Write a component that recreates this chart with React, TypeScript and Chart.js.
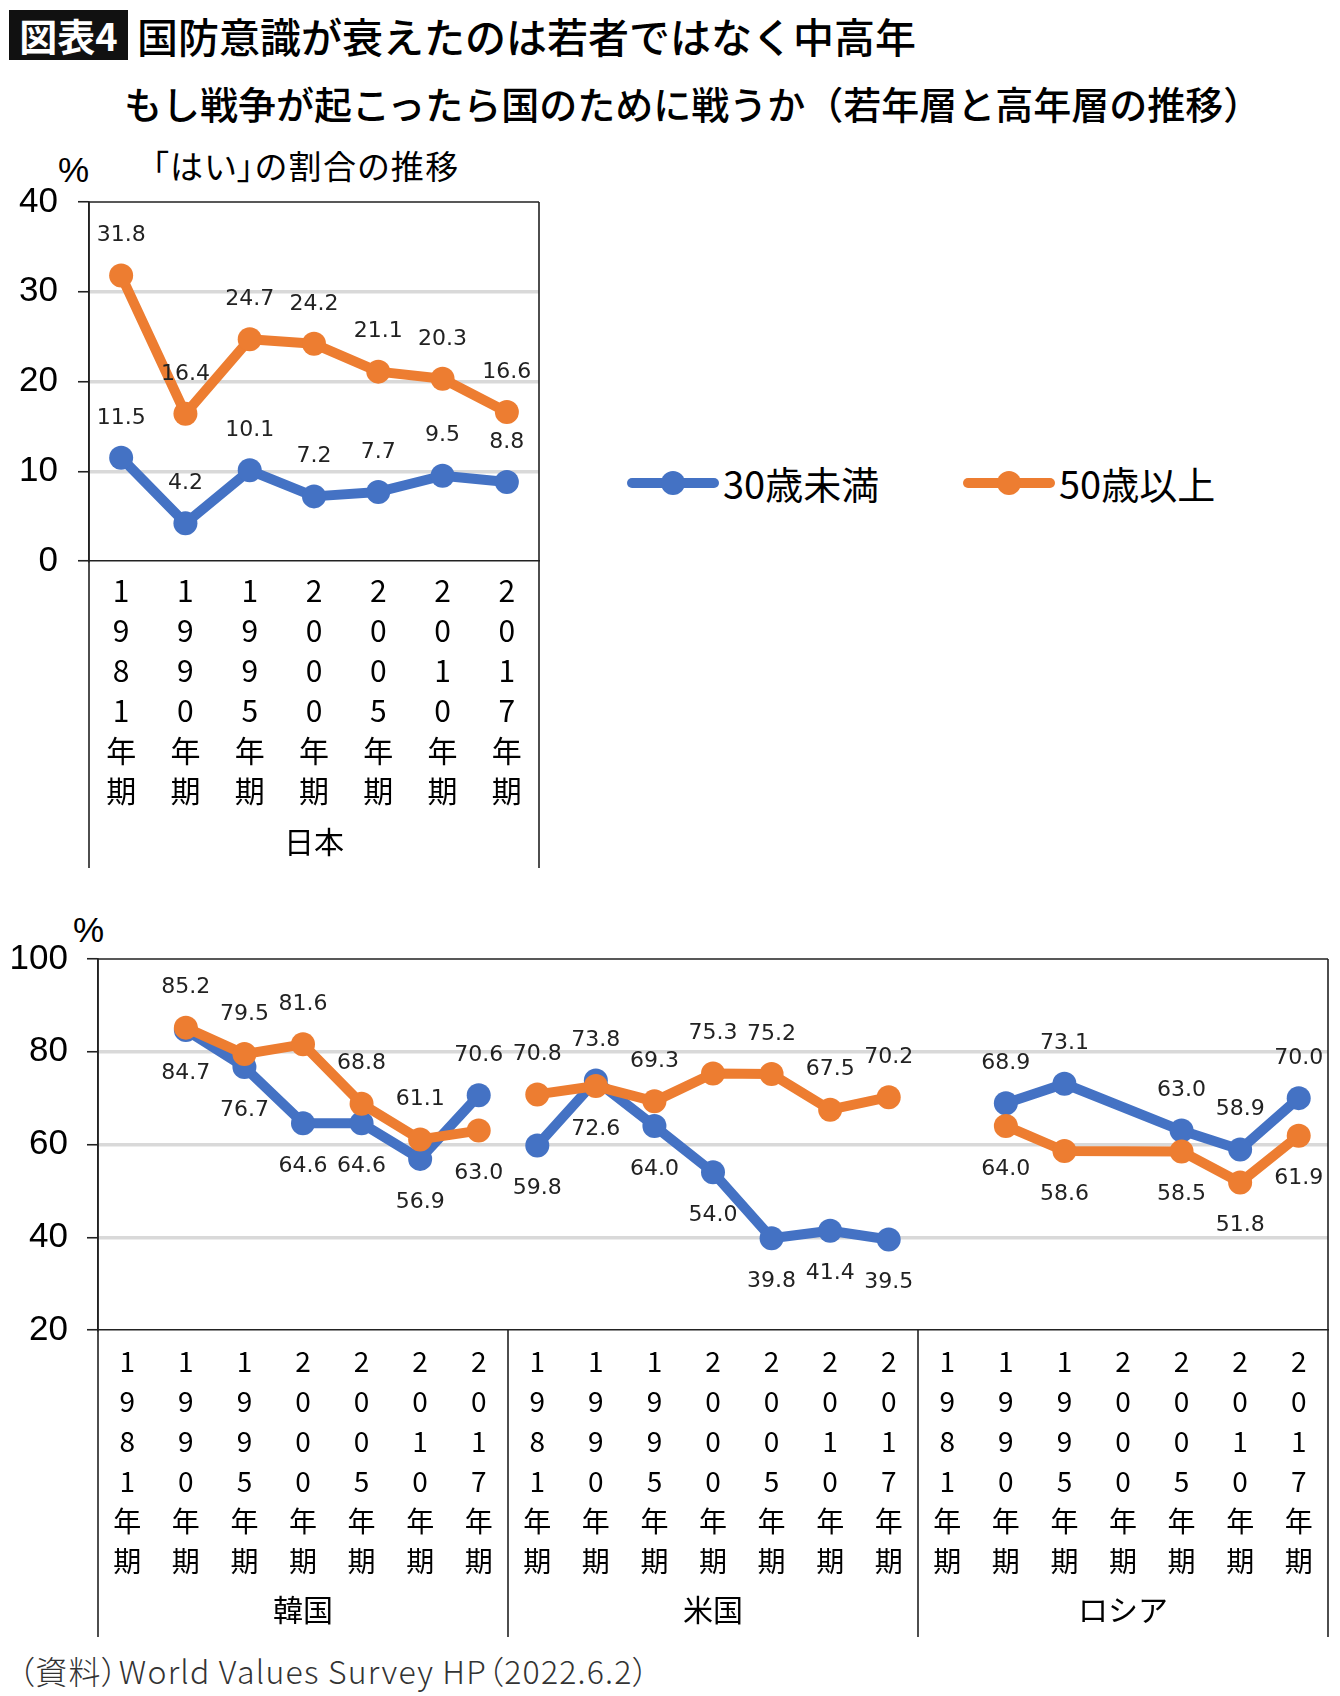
import React, { useEffect, useRef } from "react";
import { Chart, registerables } from "chart.js";

Chart.register(...registerables);

const BLUE = "#4472C4";
const ORANGE = "#ED7D31";
const JP_FONT = '"Noto Sans CJK JP", "Noto Sans", sans-serif';
const NUM_FONT = '"Liberation Sans", Arial, sans-serif';

// categories
const periods = ["1981", "1990", "1995", "2000", "2005", "2010", "2017"];
const countries = ["韓国", "米国", "ロシア"];
const seriesNames = ["30歳未満", "50歳以上"];

// Japan, % answering "yes"
const japanUnder30 = [11.5, 4.2, 10.1, 7.2, 7.7, 9.5, 8.8];
const japanOver50 = [31.8, 16.4, 24.7, 24.2, 21.1, 20.3, 16.6];

// Korea / US / Russia
const koreaUnder30 = [null, 84.7, 76.7, 64.6, 64.6, 56.9, 70.6];
const koreaOver50 = [null, 85.2, 79.5, 81.6, 68.8, 61.1, 63.0];
const usUnder30 = [59.8, 73.8, 64.0, 54.0, 39.8, 41.4, 39.5];
const usOver50 = [70.8, 72.6, 69.3, 75.3, 75.2, 67.5, 70.2];
const russiaUnder30 = [null, 68.9, 73.1, null, 63.0, 58.9, 70.0];
const russiaOver50 = [null, 64.0, 58.6, null, 58.5, 51.8, 61.9];

// which side of the point the value label sits on
const A = "above";
const B = "below";
const japanUnder30Side = [A, A, A, A, A, A, A];
const japanOver50Side = [A, A, A, A, A, A, A];
const koreaUnder30Side = [B, B, B, B, B, B, A];
const koreaOver50Side = [A, A, A, A, A, A, B];
const usUnder30Side = [B, A, B, B, B, B, B];
const usOver50Side = [A, B, A, A, A, A, A];
const russiaUnder30Side = [A, A, A, A, A, A, A];
const russiaOver50Side = [B, B, B, B, B, B, B];

const periodLabel = (p: string) => [...p.split(""), "年", "期"];

// put one country's 7 values into its slot of the 21-category axis
const spread = (vals: any[], g: number) =>
  Array.from({ length: 21 }, (_, i) => (Math.floor(i / 7) === g ? vals[i % 7] : null));

const valueLabels = {
  id: "valueLabels",
  afterDatasetsDraw(chart: any) {
    const ctx = chart.ctx;
    ctx.save();
    ctx.font = '22px "DejaVu Sans", sans-serif';
    ctx.fillStyle = "#222";
    ctx.textAlign = "center";
    ctx.textBaseline = "middle";
    chart.data.datasets.forEach((ds: any, i: number) => {
      const meta = chart.getDatasetMeta(i);
      meta.data.forEach((pt: any, j: number) => {
        const v = ds.data[j];
        if (v == null) return;
        const dy = ds.labelSide[j] === B ? 43 : -40;
        ctx.fillText(v.toFixed(1), pt.x, pt.y + dy);
      });
    });
    ctx.restore();
  },
};

// plot frame + the long category dividers under the axis
const framePlugin = {
  id: "frame",
  afterDraw(chart: any) {
    const { ctx, chartArea: a } = chart;
    const g = chart.scales.x2;
    const n = g.getLabels().length;
    const step = (a.right - a.left) / n;
    ctx.save();
    ctx.strokeStyle = "#222";
    ctx.lineWidth = 1.6;
    ctx.beginPath();
    ctx.moveTo(a.left, a.top);
    ctx.lineTo(a.right, a.top);
    for (let k = 0; k <= n; k++) {
      const x = a.left + k * step;
      ctx.moveTo(x, k === 0 || k === n ? a.top : a.bottom);
      ctx.lineTo(x, g.bottom);
    }
    ctx.stroke();
    ctx.restore();
  },
};

function lineSet(label: string, values: any[], color: string, order: number, sides: string[]) {
  return {
    label,
    data: values,
    labelSide: sides,
    borderColor: color,
    backgroundColor: color,
    borderWidth: 10,
    borderJoinStyle: "round",
    pointRadius: 12,
    pointHoverRadius: 12,
    pointBorderWidth: 0,
    tension: 0,
    spanGaps: true,
    order,
    xAxisID: "x",
    yAxisID: "y",
  };
}

function chartOptions(o: any) {
  return {
    animation: false,
    responsive: false,
    maintainAspectRatio: false,
    layout: { padding: o.padding },
    plugins: { legend: { display: false }, tooltip: { enabled: false } },
    scales: {
      x: {
        type: "category",
        offset: true,
        weight: 0,
        grid: { display: false },
        border: { display: true, color: "#222", width: 1.6 },
        ticks: {
          autoSkip: false,
          maxRotation: 0,
          minRotation: 0,
          padding: o.xPad,
          color: "#000",
          font: { family: JP_FONT, size: o.xFont, lineHeight: "40px" },
        },
        afterFit: (s: any) => {
          s.height = o.xHeight;
        },
      },
      x2: {
        type: "category",
        labels: o.groups,
        offset: true,
        position: "bottom",
        weight: 1,
        grid: { display: false },
        border: { display: false },
        ticks: { padding: o.x2Pad, color: "#000", font: { family: JP_FONT, size: 30 } },
        afterFit: (s: any) => {
          s.height = o.x2Height;
        },
      },
      y: {
        min: o.yMin,
        max: o.yMax,
        ticks: {
          stepSize: o.step,
          padding: o.yPad,
          color: "#000",
          font: { family: NUM_FONT, size: 35 },
        },
        grid: {
          color: (c: any) =>
            c.tick && (c.tick.value === o.yMin || c.tick.value === o.yMax) ? "rgba(0,0,0,0)" : "#d9d9d9",
          lineWidth: 3.5,
          tickLength: 11,
          tickColor: "#222",
          tickWidth: 1.6,
        },
        border: { color: "#222", width: 1.6 },
        afterFit: (s: any) => {
          s.width = o.yWidth;
        },
      },
    },
  };
}

function JapanChart() {
  const ref = useRef<HTMLCanvasElement>(null);
  useEffect(() => {
    const chart = new Chart(ref.current as any, {
      type: "line",
      data: {
        labels: periods.map(periodLabel),
        datasets: [
          lineSet(seriesNames[1], japanOver50, ORANGE, 0, japanOver50Side),
          lineSet(seriesNames[0], japanUnder30, BLUE, 1, japanUnder30Side),
        ],
      },
      options: chartOptions({
        padding: { top: 44, right: 21, bottom: 4, left: 0 },
        groups: ["日本"],
        yMin: 0,
        yMax: 40,
        step: 10,
        yWidth: 89,
        yPad: 20,
        xFont: 30,
        xPad: 2,
        xHeight: 251,
        x2Pad: 4,
        x2Height: 56,
      }),
      plugins: [framePlugin, valueLabels],
    } as any);
    return () => chart.destroy();
  }, []);
  return (
    <canvas
      ref={ref}
      width={560}
      height={714}
      style={{ position: "absolute", left: 0, top: 158, width: 560, height: 714 }}
    />
  );
}

function WorldChart() {
  const ref = useRef<HTMLCanvasElement>(null);
  useEffect(() => {
    const labels = countries.flatMap(() => periods.map(periodLabel));
    const chart = new Chart(ref.current as any, {
      type: "line",
      data: {
        labels,
        datasets: [
          lineSet(seriesNames[1], spread(koreaOver50, 0), ORANGE, 0, spread(koreaOver50Side, 0)),
          lineSet(seriesNames[1], spread(usOver50, 1), ORANGE, 0, spread(usOver50Side, 1)),
          lineSet(seriesNames[1], spread(russiaOver50, 2), ORANGE, 0, spread(russiaOver50Side, 2)),
          lineSet(seriesNames[0], spread(koreaUnder30, 0), BLUE, 1, spread(koreaUnder30Side, 0)),
          lineSet(seriesNames[0], spread(usUnder30, 1), BLUE, 1, spread(usUnder30Side, 1)),
          lineSet(seriesNames[0], spread(russiaUnder30, 2), BLUE, 1, spread(russiaUnder30Side, 2)),
        ],
      },
      options: chartOptions({
        padding: { top: 42, right: 12, bottom: 5, left: 0 },
        groups: countries,
        yMin: 20,
        yMax: 100,
        step: 20,
        yWidth: 98,
        yPad: 19,
        xFont: 28,
        xPad: 3,
        xHeight: 248,
        x2Pad: 6,
        x2Height: 59,
      }),
      plugins: [framePlugin, valueLabels],
    } as any);
    return () => chart.destroy();
  }, []);
  return (
    <canvas
      ref={ref}
      width={1340}
      height={725}
      style={{ position: "absolute", left: 0, top: 917, width: 1340, height: 725 }}
    />
  );
}

function LegendItem({ name, color, left }: { name: string; color: string; left: number }) {
  return (
    <>
      <div
        style={{
          position: "absolute",
          left,
          top: 478,
          width: 92,
          height: 10,
          borderRadius: 5,
          background: color,
        }}
      />
      <div
        style={{
          position: "absolute",
          left: left + 34,
          top: 471,
          width: 24,
          height: 24,
          borderRadius: 12,
          background: color,
        }}
      />
      <div
        style={{
          position: "absolute",
          left: left + 96,
          top: 458,
          height: 50,
          lineHeight: "50px",
          fontSize: 38,
          fontFamily: JP_FONT,
          color: "#000",
          whiteSpace: "nowrap",
        }}
      >
        {name}
      </div>
    </>
  );
}

const text = (extra: React.CSSProperties): React.CSSProperties => ({
  position: "absolute",
  fontFamily: JP_FONT,
  color: "#000",
  whiteSpace: "nowrap",
  ...extra,
});

export default function App() {
  return (
    <div
      style={{
        position: "absolute",
        left: 0,
        top: 0,
        width: 1340,
        height: 1696,
        background: "#fff",
        overflow: "hidden",
      }}
    >
      <div
        style={text({
          left: 9,
          top: 10,
          width: 119,
          height: 50,
          lineHeight: "50px",
          background: "#111",
          color: "#fff",
          fontSize: 38,
          fontWeight: 700,
          textAlign: "center",
        })}
      >
        図表4
      </div>
      <div style={text({ left: 137, top: 10, height: 50, lineHeight: "50px", fontSize: 41, fontWeight: 500 })}>
        国防意識が衰えたのは若者ではなく中高年
      </div>
      <div style={text({ left: 124, top: 78, height: 50, lineHeight: "50px", fontSize: 38, fontWeight: 500 })}>
        もし戦争が起こったら国のために戦うか（若年層と高年層の推移）
      </div>
      <div
        style={text({
          left: 152,
          top: 144,
          height: 42,
          lineHeight: "42px",
          fontSize: 33,
          letterSpacing: 1.5,
          fontFeatureSettings: '"palt"',
        })}
      >
        「はい」の割合の推移
      </div>
      <div style={text({ left: 58, top: 150, height: 40, lineHeight: "40px", fontSize: 35, fontFamily: NUM_FONT })}>
        %
      </div>
      <div style={text({ left: 73, top: 910, height: 40, lineHeight: "40px", fontSize: 35, fontFamily: NUM_FONT })}>
        %
      </div>

      <JapanChart />
      <LegendItem name={seriesNames[0]} color={BLUE} left={627} />
      <LegendItem name={seriesNames[1]} color={ORANGE} left={963} />
      <WorldChart />

      <div
        style={text({
          left: 18,
          top: 1650,
          height: 40,
          lineHeight: "40px",
          fontSize: 32,
          fontWeight: 300,
          color: "#333",
          letterSpacing: 1.2,
          fontFeatureSettings: '"palt"',
        })}
      >
        （資料）World Values Survey HP（2022.6.2）
      </div>
    </div>
  );
}
